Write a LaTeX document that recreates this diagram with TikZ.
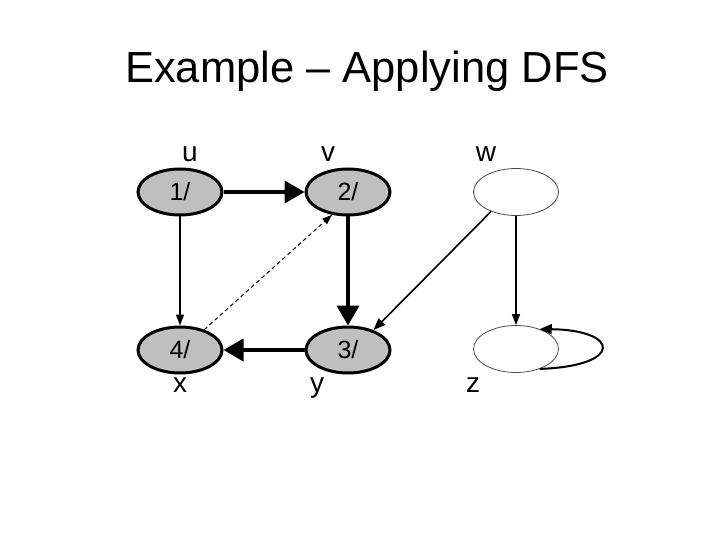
\documentclass[tikz,border=0pt]{standalone}
\usepackage{fontspec}
\setmainfont{Liberation Sans}
\usetikzlibrary{arrows.meta,shapes.geometric}
\begin{document}
\begin{tikzpicture}[x=1pt,y=-1pt,
  visited/.style={ellipse,draw=black,line width=3pt,fill=black!25,minimum width=84pt,minimum height=46pt,inner sep=0pt,font=\fontsize{25}{27}\selectfont},
  fresh/.style={ellipse,draw=black!70,line width=0.8pt,fill=white,minimum width=85pt,minimum height=47pt,inner sep=0pt},
  lbl/.style={font=\fontsize{28}{30}\selectfont,inner sep=0pt,anchor=base},
  tree/.style={line width=4pt,-{Triangle[length=20pt,width=22pt]}},
  thin/.style={line width=1.3pt,-{Triangle[length=11pt,width=8pt]}},
  mid/.style={line width=1.6pt,-{Triangle[length=12pt,width=9pt]}}]
\useasboundingbox (0,0) rectangle (720,540);
\node[inner sep=0pt,font=\fontsize{43.5}{46}\selectfont,anchor=base] (title) at (367,83) {Example -- Applying DFS};
\node[visited] (u) at (180,192) {1/};
\node[visited] (v) at (348,192) {2/};
\node[fresh] (w) at (516,192) {};
\node[visited] (x) at (180,350) {4/};
\node[visited] (y) at (348,350) {3/};
\node[fresh] (z) at (516,349) {};
\node[lbl] (lu) at (190,162) {u};
\node[lbl] (lv) at (328,162) {v};
\node[lbl] (lw) at (486,162) {w};
\node[lbl] (lx) at (180,392) {x};
\node[lbl] (ly) at (317,392) {y};
\node[lbl] (lz) at (473,392) {z};
\draw[tree] (u) -- (v);
\draw[tree] (v) -- (y);
\draw[tree] (y) -- (x);
\draw[thin] (u) -- (x);
\draw[thin] (w) -- (z);
\draw[line width=1pt,dashed,dash pattern=on 4pt off 3pt,-{Triangle[length=10pt,width=7pt]}] (x.40) -- (v.235);
\draw[mid] (w.218) -- (y.38);
\draw[line width=2pt,-{Triangle[length=12pt,width=10pt]}] (z.-40) .. controls (624,366) and (620,330) .. (z.40);
\end{tikzpicture}
\end{document}
